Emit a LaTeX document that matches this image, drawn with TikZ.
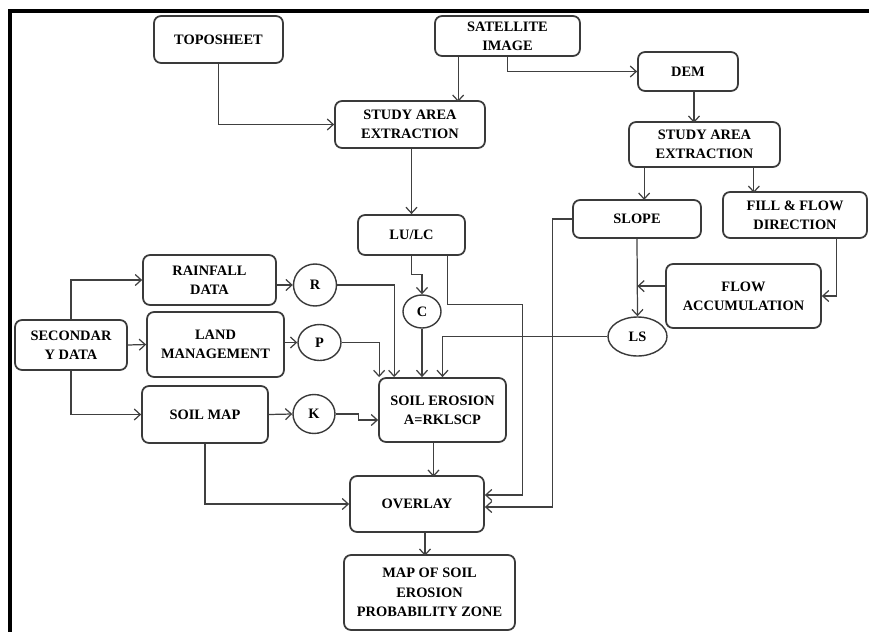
\documentclass[tikz,border=0pt]{standalone}
\usepackage{fontspec}
\setmainfont{Liberation Serif}
\usetikzlibrary{positioning, arrows.meta, calc, shapes.geometric}
\definecolor{boxline}{HTML}{3A3A3A}
\definecolor{wireline}{HTML}{404040}

\begin{document}
\begin{tikzpicture}[
    x=0.02cm, y=-0.02cm,
    >={Straight Barb[length=1.2mm, width=2.2mm]},
    every node/.style={font=\fontsize{8.2}{11}\selectfont\bfseries},
    box/.style={
      rectangle, rounded corners=4pt, draw=boxline, line width=1pt,
      fill=white, align=center, inner sep=2pt
    },
    param/.style={
      ellipse, draw=boxline, line width=0.8pt, fill=white, inner sep=0pt
    },
    arr/.style={->, draw=wireline, line width=0.7pt},
  ]
  \useasboundingbox (0,0) rectangle (869,632);

  % ============ Frame ============
  \draw[line width=0.08cm, line join=miter] (10,632) -- (10,11) -- (869,11);

  % ============ Top: inputs ============
  \node[box, minimum width=2.58cm, minimum height=0.94cm] (topo) at (218.5,39.5) {TOPOSHEET};
  \node[box, minimum width=2.9cm, minimum height=0.8cm]   (sat)  at (507.5,36)   {SATELLITE\\IMAGE};
  \node[box, minimum width=3.0cm, minimum height=0.94cm]  (sae1) at (410,124.5)  {STUDY AREA\\EXTRACTION};
  \node[box, minimum width=2.0cm, minimum height=0.78cm]  (dem)  at (688,71.5)   {DEM};

  % ============ DEM branch ============
  \node[box, minimum width=3.02cm, minimum height=0.9cm]  (sae2)  at (704.5,144.5) {STUDY AREA\\EXTRACTION};
  \node[box, minimum width=2.56cm, minimum height=0.76cm] (slope) at (637,219)     {SLOPE};
  \node[box, minimum width=2.88cm, minimum height=0.92cm] (fill)  at (795,215)     {FILL \& FLOW\\DIRECTION};
  \node[box, minimum width=3.1cm, minimum height=1.28cm]  (flow)  at (743.5,296)   {FLOW\\ACCUMULATION};
  \node[param, minimum width=1.18cm, minimum height=0.78cm] (ls)  at (637.5,336.5) {LS};

  % ============ Land use ============
  \node[box, minimum width=2.14cm, minimum height=0.8cm] (lulc) at (411.5,235) {LU/LC};
  \node[param, minimum width=0.76cm, minimum height=0.66cm] (c) at (422,311.5) {C};

  % ============ Secondary data ============
  \node[box, minimum width=2.24cm, minimum height=1.0cm]  (sec)  at (71,345)    {SECONDAR\\Y DATA};
  \node[box, minimum width=2.66cm, minimum height=1.0cm]  (rain) at (209.5,280) {RAINFALL\\DATA};
  \node[box, minimum width=2.74cm, minimum height=1.3cm]  (land) at (215.5,344.5) {LAND\\MANAGEMENT};
  \node[box, minimum width=2.52cm, minimum height=1.14cm] (soil) at (205,414.5) {SOIL MAP};
  \node[param, minimum width=0.86cm, minimum height=0.84cm] (r) at (315,285)   {R};
  \node[param, minimum width=0.86cm, minimum height=0.72cm] (p) at (319.5,342.5) {P};
  \node[param, minimum width=0.84cm, minimum height=0.78cm] (k) at (314,414)   {K};

  % ============ Model and outputs ============
  \node[box, minimum width=2.54cm, minimum height=1.28cm] (se)      at (442.5,410) {SOIL EROSION\\A=RKLSCP};
  \node[box, minimum width=2.68cm, minimum height=1.12cm] (overlay) at (417,504)   {OVERLAY};
  \node[box, minimum width=3.42cm, minimum height=1.5cm]  (map)     at (429.5,592.5) {MAP OF SOIL\\EROSION\\PROBABILITY ZONE};

  % ============ Arrows ============
  % Inputs -> study area
  \draw[arr] (topo.south) |- (sae1.west);
  \draw[arr] ($(sat.south west)+(24,0)$) -- ++(0,45);
  \draw[arr] (sat.south) |- (dem.west);
  \draw[arr] ($(dem.south)+(6,0)$) -- ++(0,31);

  % DEM branch
  \draw[arr] ($(sae2.south west)+(16,0)$) -- ++(0,32);
  \draw[arr] ($(sae2.south east)+(-27,0)$) -- ++(0,25);
  \draw[arr] ($(fill.south east)+(-31,0)$) |- (flow.east);
  \draw[arr] (slope.south) -- (ls.north);
  \path (slope.south) -- (ls.north) coordinate[pos=0.61] (join);
  \draw[arr] (flow.west |- join) -- (join);
  \draw[arr] (ls.west) -| (se.north);

  % Land use
  \draw[arr] (sae1.south -| lulc.north) -- (lulc.north);
  \draw[arr] (lulc.south) -- ++(0,19) -| (c.north);
  \draw[arr] (c.south) -- (c.south |- se.north);

  % Secondary data
  \draw[arr] (sec.north) |- (rain.west);
  \draw[arr] (sec.east) -- (land.west);
  \draw[arr] (sec.south) |- (soil.west);
  \draw[arr] (r.west -| rain.east) -- (r.west);
  \draw[arr] (p.west -| land.east) -- (p.west);
  \draw[arr] (soil.east) -- (k.west);

  % Factors -> soil erosion
  \draw[arr] (r.east) -| ($(se.north west)+(16,0)$);
  \draw[arr] (p.east) -| ($(se.north west)+(1,0)$);
  \draw[arr] (k.east) -- ++(23,0) |- ($(se.west)+(0,10)$);

  % -> overlay -> map
  \draw[arr] ($(se.south)+(-9,0)$) -- ++(0,34);
  \draw[arr] (soil.south) |- (overlay.west);
  \draw[arr] ($(lulc.south east)+(-18,0)$) |- ++(75,49) |- ($(overlay.east)+(0,-9)$);
  \draw[arr] (slope.west) -- ++(-20,0) |- ($(overlay.east)+(0,3)$);
  \draw[arr] ($(overlay.south)+(8,0)$) -- ++(0,23);

\end{tikzpicture}
\end{document}
